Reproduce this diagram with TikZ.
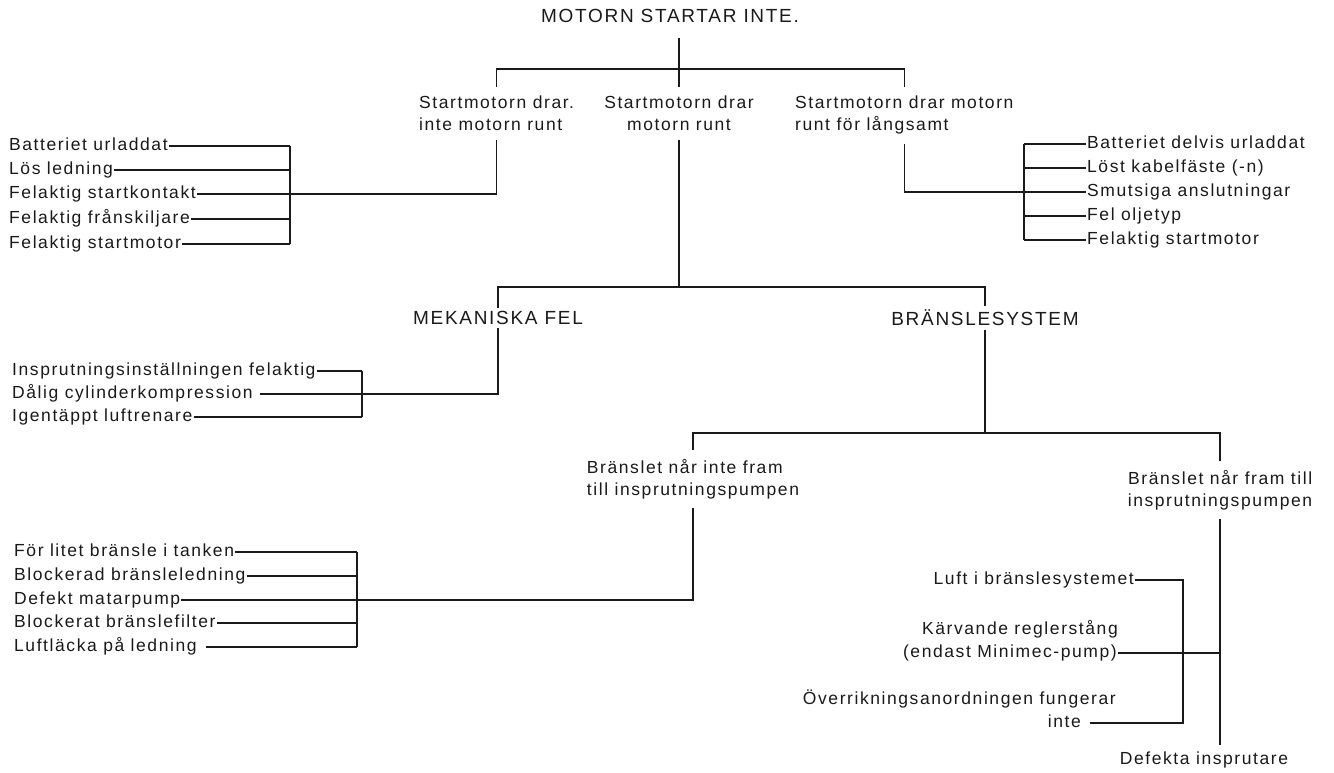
\documentclass[tikz,border=0pt]{standalone}
\usepackage{fontspec}
\setmainfont{Liberation Sans}[LetterSpace=9]
\usepackage{tikz}
\definecolor{inkc}{HTML}{1A1A1A}

\begin{document}
\begin{tikzpicture}[x=1pt,y=-1pt,
    every node/.style={text=inkc,font=\fontsize{17.5}{22}\selectfont},
    row/.style={inner xsep=1pt,inner ysep=1pt,text height=12pt,text depth=4pt},
    cause/.style={align=left,inner xsep=1pt,inner ysep=9pt},
    head/.style={font=\fontsize{19}{22}\selectfont},
    wire/.style={draw=inkc,line width=1.5pt}]
  \useasboundingbox[fill=white] (0,0) rectangle (1334,772);

  \node[head] (title) at (670,16) {MOTORN STARTAR INTE.};
  \node[cause,anchor=north west] (nA) at (418,87) {Startmotorn drar.\\inte motorn runt};
  \node[cause,align=center,anchor=north] (nB) at (679,87) {Startmotorn drar\\motorn runt};
  \node[cause,anchor=north west] (nC) at (794,87) {Startmotorn drar motorn\\runt för långsamt};
  \coordinate (bar1) at (679,69);
  \draw[wire,shorten <=12pt] (title.south -| bar1) -- (nB.north);
  \draw[wire] (nA.north) |- (bar1) -| (nC.north);

  \coordinate (brL) at (290,0);
  \foreach \n/\y/\txt in {a/146/Batteriet urladdat, b/170/Lös ledning,
    c/194/Felaktig startkontakt, d/219/Felaktig frånskiljare, e/244/Felaktig startmotor}
    \node[row,anchor=west] (l\n) at (8,\y) {\txt};
  \foreach \n in {a,b,d,e}
    \draw[wire] (l\n.east) -- (l\n.east -| brL);
  \draw[wire] (la.east -| brL) -- (le.east -| brL);
  \draw[wire] (nA.south) |- (lc.east);

  \coordinate (brR) at (1024,0);
  \foreach \n/\y/\txt in {a/144/Batteriet delvis urladdat, b/168/Löst kabelfäste (-n),
    c/192/Smutsiga anslutningar, d/216/Fel oljetyp, e/240/Felaktig startmotor}
    \node[row,anchor=west] (r\n) at (1086,\y) {\txt};
  \foreach \n in {a,b,d,e}
    \draw[wire] (r\n.west) -- (r\n.west -| brR);
  \draw[wire] (ra.west -| brR) -- (re.west -| brR);
  \draw[wire] (nC.south) |- (rc.west);

  \coordinate (bar2) at (679,287);
  \node[head] (mek) at (498,318) {MEKANISKA FEL};
  \node[head] (bran) at (985,318) {BRÄNSLESYSTEM};
  \draw[wire] (nB.south) -- (bar2);
  \draw[wire] (mek.north) |- (bar2) -| (bran.north);

  \coordinate (brM) at (362,0);
  \foreach \n/\y/\txt in {a/371/Insprutningsinställningen felaktig,
    b/394/Dålig cylinderkompression, c/417/Igentäppt luftrenare}
    \node[row,anchor=west] (m\n) at (11,\y) {\txt};
  \foreach \n in {a,c}
    \draw[wire] (m\n.east) -- (m\n.east -| brM);
  \draw[wire] (ma.east -| brM) -- (mc.east -| brM);
  \draw[wire] (mek.south) |- ([xshift=6pt]mb.east);

  \coordinate (bar3) at (985,433);
  \draw[wire] (bran.south) -- (bar3);
  \node[cause,anchor=north] (nD) at (693,450) {Bränslet når inte fram\\till insprutningspumpen};
  \node[cause,align=right,anchor=north] (nE) at (1220,461) {Bränslet når fram till\\insprutningspumpen};
  \draw[wire] (nD.north) |- (bar3) -| (nE.north);

  \coordinate (brF) at (357,0);
  \foreach \n/\y/\txt in {a/552/För litet bränsle i tanken, b/576/Blockerad bränsleledning,
    c/600/Defekt matarpump, d/623/Blockerat bränslefilter, e/647/Luftläcka på ledning}
    \node[row,anchor=west] (f\n) at (13,\y) {\txt};
  \foreach \n/\g in {a/0,b/0,d/0,e/8}
    \draw[wire] ([xshift=\g pt]f\n.east) -- (f\n.east -| brF);
  \draw[wire] (fa.east -| brF) -- (fe.east -| brF);
  \draw[wire] (nD.south) |- (fc.east);

  \coordinate (brE) at (1183,0);
  \node[row,anchor=east] (luft) at (1135,580) {Luft i bränslesystemet};
  \node[row,anchor=east] (karv) at (1119,630) {Kärvande reglerstång};
  \node[row,anchor=east] (minimec) at (1118,653) {(endast Minimec-pump)};
  \node[row,anchor=east] (overr) at (1117,700) {Överrikningsanordningen fungerar};
  \node[row,anchor=east] (inte) at (1082,723) {inte};
  \node[row] (defekta) at (1204,760) {Defekta insprutare};
  \draw[wire] (luft.east) -- (luft.east -| brE) -- (inte.east -| brE) -- ([xshift=8pt]inte.east);
  \draw[wire] (minimec.east) -- (minimec.east -| nE.south);
  \draw[wire,shorten >=6pt] (nE.south) -- (nE.south |- defekta.north);
\end{tikzpicture}
\end{document}
